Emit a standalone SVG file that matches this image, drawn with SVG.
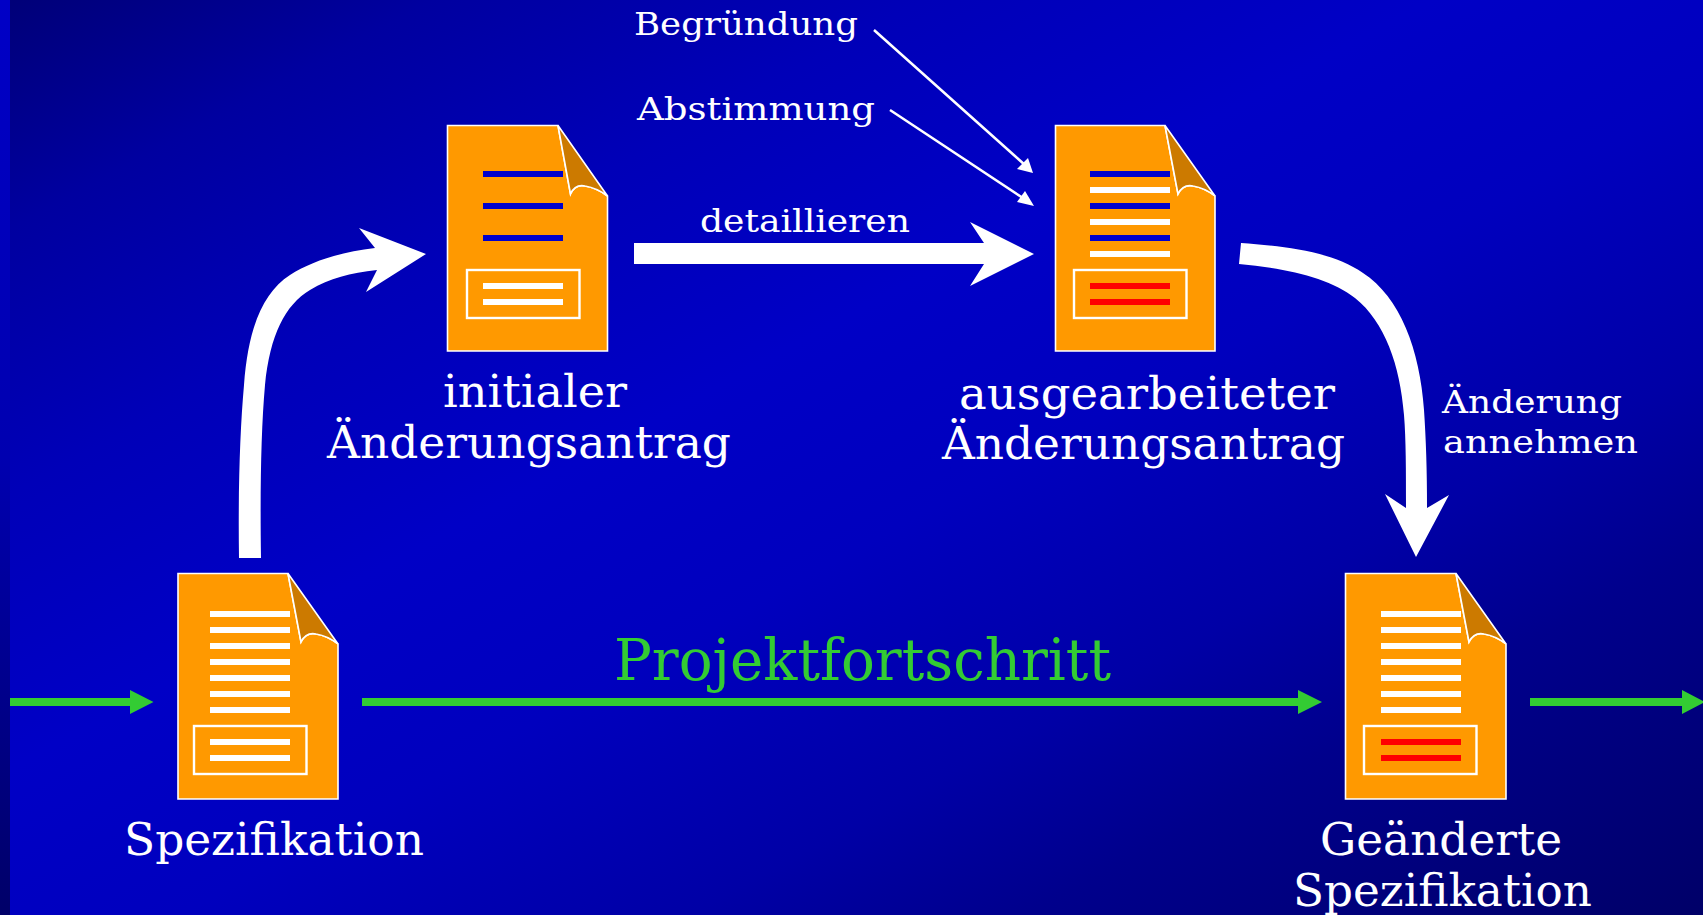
<svg xmlns="http://www.w3.org/2000/svg" width="1703" height="915" viewBox="0 0 1703 915">
<style>
.t{font-family:"DejaVu Serif","Liberation Serif",serif;fill:#fff}
.s{font-size:32px}.m{font-size:44px}.l{font-size:57px;fill:#33CC33}
.page{fill:#FF9900;stroke:#fff;stroke-width:1.6}
.fold{fill:#CC7A00;stroke:#fff;stroke-width:1.6}
.box{fill:none;stroke:#fff;stroke-width:2.4}
.w{fill:#fff}.b{fill:#0000CC}.r{fill:#FF0000}
.g{fill:#33CC33}.a{fill:#fff}
.thin{stroke:#fff;stroke-width:2.5;fill:none}
</style>
<defs>
<linearGradient id="bg" x1="0" y1="0" x2="1" y2="1"><stop offset="0" stop-color="#000078"/><stop offset="0.125" stop-color="#0000A0"/><stop offset="0.27" stop-color="#0000B8"/><stop offset="0.42" stop-color="#0000C6"/><stop offset="0.55" stop-color="#0000BE"/><stop offset="0.7" stop-color="#0000A6"/><stop offset="0.8" stop-color="#00008C"/><stop offset="1" stop-color="#000068"/></linearGradient>
<linearGradient id="strip" x1="0" y1="0" x2="0" y2="1"><stop offset="0" stop-color="#0000C6"/><stop offset="0.5" stop-color="#0000B0"/><stop offset="1" stop-color="#000068"/></linearGradient>
</defs>
<rect x="0" y="0" width="10" height="915" fill="url(#strip)"/>
<rect x="10" y="0" width="1693" height="915" fill="url(#bg)"/>

<g id="connectors">
<path class="g" d="M10 698H130V690L153.500 702L130 714V706H10Z"/>
<path class="g" d="M362 698H1298V690L1322 702L1298 714V706H362Z"/>
<path class="g" d="M1530 698H1682V690L1705 702L1682 714V706H1530Z"/>
<path class="a" d="M634 243H984L970 222L1034 254L970 286L984 264H634Z"/>
<path class="thin" d="M874 30L1025 165M890 110L1026 200"/>
<path class="a" d="M1033 173L1017 169L1028 158Z"/>
<path class="a" d="M1034 206L1017 202L1025 191Z"/>
<path class="a" d="M239 558H261C260 490 261 430 265 385C270 335 285 305 310 290C330 278 350 273 377 270L366 292L426 254L359 228L375 248C340 252 310 262 290 275C262 293 248 330 244 385C240 430 238 490 239 558Z"/>
<path class="a" d="M1241 243C1280 246 1330 250 1363 273C1400 297 1420 350 1424 410C1426 440 1427 470 1427 508L1449 495L1416 557L1385 494L1406 508C1406 470 1406 440 1404 415C1400 365 1385 322 1355 298C1330 278 1285 268 1239 264Z"/>
</g>

<g id="doc-spezifikation">
<path class="page" d="M178 573.500H288L301 642Q306 632 316 634Q328 636 338 644V799H178Z"/>
<path class="fold" d="M288 573.500L338 644Q328 636 316 634Q306 632 301 642Z"/>
<path class="w" d="M210 611h80v6h-80zM210 627h80v6h-80zM210 643h80v6h-80zM210 659h80v6h-80zM210 675h80v6h-80zM210 691h80v6h-80zM210 707h80v6h-80zM210 739h80v6h-80zM210 755h80v6h-80z"/>
<rect class="box" x="194" y="726" width="112.500" height="48"/>
<text class="t m" x="124" y="855" textLength="300" lengthAdjust="spacingAndGlyphs">Spezifikation</text>
</g>

<g id="doc-initial">
<path class="page" d="M447.500 125.500H558L570.500 194Q575 184 585 186Q597 188 607.500 196V351H447.500Z"/>
<path class="fold" d="M558 125.500L607.500 196Q597 188 585 186Q575 184 570.500 194Z"/>
<path class="b" d="M483 171h80v6h-80zM483 203h80v6h-80zM483 235h80v6h-80z"/>
<path class="w" d="M483 283h80v6h-80zM483 299h80v6h-80z"/>
<rect class="box" x="467" y="270" width="112.500" height="48"/>
<text class="t m" x="443" y="407" textLength="184" lengthAdjust="spacingAndGlyphs">initialer</text>
<text class="t m" x="327" y="458" textLength="404" lengthAdjust="spacingAndGlyphs">Änderungsantrag</text>
</g>

<g id="doc-ausgearbeitet">
<path class="page" d="M1055.500 125.500H1165L1178 194Q1183 184 1193 186Q1205 188 1215 196V351H1055.500Z"/>
<path class="fold" d="M1165 125.500L1215 196Q1205 188 1193 186Q1183 184 1178 194Z"/>
<path class="b" d="M1090 171h80v6h-80zM1090 203h80v6h-80zM1090 235h80v6h-80z"/>
<path class="w" d="M1090 187h80v6h-80zM1090 219h80v6h-80zM1090 251h80v6h-80z"/>
<path class="r" d="M1090 283h80v6h-80zM1090 299h80v6h-80z"/>
<rect class="box" x="1074" y="270" width="112.500" height="48"/>
<text class="t m" x="959" y="409" textLength="376" lengthAdjust="spacingAndGlyphs">ausgearbeiteter</text>
<text class="t m" x="942" y="459" textLength="403" lengthAdjust="spacingAndGlyphs">Änderungsantrag</text>
</g>

<g id="doc-geaendert">
<path class="page" d="M1345.500 573.500H1456L1469 642Q1474 632 1484 634Q1496 636 1506 644V799H1345.500Z"/>
<path class="fold" d="M1456 573.500L1506 644Q1496 636 1484 634Q1474 632 1469 642Z"/>
<path class="w" d="M1381 611h80v6h-80zM1381 627h80v6h-80zM1381 643h80v6h-80zM1381 659h80v6h-80zM1381 675h80v6h-80zM1381 691h80v6h-80zM1381 707h80v6h-80z"/>
<path class="r" d="M1381 739h80v6h-80zM1381 755h80v6h-80z"/>
<rect class="box" x="1364" y="726" width="112.500" height="48"/>
<text class="t m" x="1320" y="855" textLength="242" lengthAdjust="spacingAndGlyphs">Geänderte</text>
<text class="t m" x="1293" y="906" textLength="299" lengthAdjust="spacingAndGlyphs">Spezifikation</text>
</g>

<g id="labels">
<text class="t s" x="634" y="35" textLength="224" lengthAdjust="spacingAndGlyphs">Begründung</text>
<text class="t s" x="637" y="120" textLength="238" lengthAdjust="spacingAndGlyphs">Abstimmung</text>
<text class="t s" x="700" y="232" textLength="210" lengthAdjust="spacingAndGlyphs">detaillieren</text>
<text class="t s" x="1442" y="413" textLength="180" lengthAdjust="spacingAndGlyphs">Änderung</text>
<text class="t s" x="1443" y="453" textLength="195" lengthAdjust="spacingAndGlyphs">annehmen</text>
<text class="t l" x="614" y="680" textLength="497" lengthAdjust="spacingAndGlyphs">Projektfortschritt</text>
</g>
</svg>
